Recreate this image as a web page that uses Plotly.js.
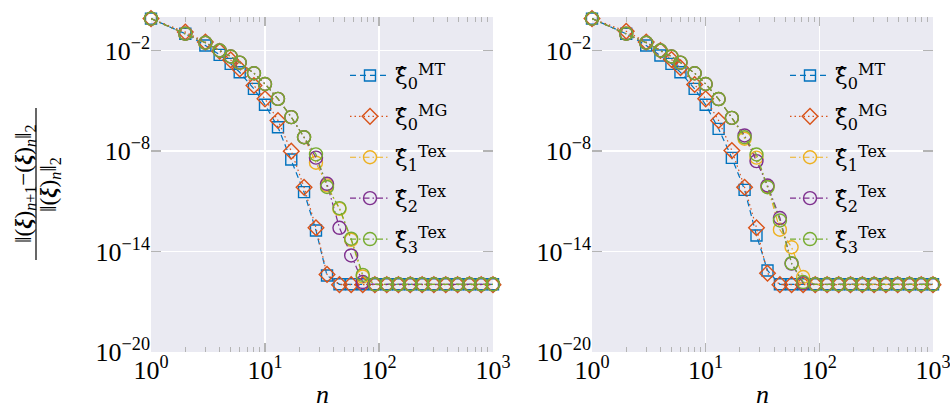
<!DOCTYPE html>
<html><head><meta charset="utf-8">
<script src="https://cdn.plot.ly/plotly-3.0.1.min.js"></script>
<style>body{margin:0;background:#fff}#plot{width:950px;height:412px}</style>
</head><body><div id="plot"></div>
<script>
// iteration counts n
const nVals = [1,2,3,4,5,6,8,10,13,17,22,28,35,45,57,72,92,117,148,188,239,303,385,489,621,788,1000];

// left panel
const leftMT  = [0.8,1.0e-1,2.0e-2,5.5e-3,1.6e-3,5.0e-4,5.1e-5,5.8e-6,2.6e-7,3.1e-9,3.5e-11,1.8e-13,3.7e-16,1.1e-16,1.1e-16,1.1e-16,1.1e-16,1.1e-16,1.1e-16,1.1e-16,1.1e-16,1.1e-16,1.1e-16,1.1e-16,1.1e-16,1.1e-16,1.1e-16];
const leftMG  = [0.8,1.26e-1,3.2e-2,9.1e-3,2.75e-3,7.9e-4,8.1e-5,1.3e-5,6.6e-7,9.8e-9,6.9e-11,2.6e-13,4.3e-16,1.05e-16,1.05e-16,1.05e-16,1.05e-16,1.05e-16,1.05e-16,1.05e-16,1.05e-16,1.05e-16,1.05e-16,1.05e-16,1.05e-16,1.05e-16,1.05e-16];
const leftT1  = [0.8,1.0e-1,2.9e-2,1.0e-2,4.4e-3,1.9e-3,4.4e-4,1.0e-4,1.3e-5,1.05e-6,6.6e-8,2.0e-9,8.9e-11,3.5e-12,5.0e-14,3.2e-16,1.1e-16,1.1e-16,1.1e-16,1.1e-16,1.1e-16,1.1e-16,1.1e-16,1.1e-16,1.1e-16,1.1e-16,1.1e-16];
const leftT2  = [0.8,1.0e-1,2.9e-2,1.0e-2,4.4e-3,1.9e-3,4.4e-4,1.0e-4,1.3e-5,1.05e-6,6.6e-8,4.0e-9,1.1e-10,2.6e-13,5.8e-15,1.5e-16,1.1e-16,1.1e-16,1.1e-16,1.1e-16,1.1e-16,1.1e-16,1.1e-16,1.1e-16,1.1e-16,1.1e-16,1.1e-16];
const leftT3  = [0.8,1.0e-1,2.9e-2,1.0e-2,4.4e-3,1.9e-3,4.4e-4,1.0e-4,1.3e-5,1.05e-6,6.6e-8,6.3e-9,7.1e-11,3.9e-12,5.8e-14,4.0e-16,1.1e-16,1.1e-16,1.1e-16,1.1e-16,1.1e-16,1.1e-16,1.1e-16,1.1e-16,1.1e-16,1.1e-16,1.1e-16];

// right panel
const rightMT = [0.8,1.0e-1,2.0e-2,5.0e-3,1.6e-3,5.0e-4,5.1e-5,5.8e-6,2.1e-7,3.9e-9,4.8e-11,9.1e-14,7.4e-16,1.1e-16,1.1e-16,1.1e-16,1.1e-16,1.1e-16,1.1e-16,1.1e-16,1.1e-16,1.1e-16,1.1e-16,1.1e-16,1.1e-16,1.1e-16,1.1e-16];
const rightMG = [0.8,1.4e-1,3.2e-2,1.0e-2,2.9e-3,9.3e-4,9.3e-5,1.3e-5,6.6e-7,1.07e-8,6.9e-11,2.6e-13,5.0e-16,1.05e-16,1.05e-16,1.05e-16,1.05e-16,1.05e-16,1.05e-16,1.05e-16,1.05e-16,1.05e-16,1.05e-16,1.05e-16,1.05e-16,1.05e-16,1.05e-16];
const rightT1 = [0.8,1.0e-1,2.9e-2,1.0e-2,4.4e-3,1.9e-3,4.4e-4,1.0e-4,1.26e-5,9.5e-7,5.4e-8,4.0e-9,7.9e-11,2.0e-13,1.8e-14,3.0e-16,1.1e-16,1.1e-16,1.1e-16,1.1e-16,1.1e-16,1.1e-16,1.1e-16,1.1e-16,1.1e-16,1.1e-16,1.1e-16];
const rightT2 = [0.8,1.0e-1,2.9e-2,1.0e-2,4.4e-3,1.9e-3,4.4e-4,1.0e-4,1.26e-5,9.5e-7,8.5e-8,2.5e-9,8.7e-11,1.0e-12,1.9e-15,1.3e-16,1.1e-16,1.1e-16,1.1e-16,1.1e-16,1.1e-16,1.1e-16,1.1e-16,1.1e-16,1.1e-16,1.1e-16,1.1e-16];
const rightT3 = [0.8,1.0e-1,2.9e-2,1.0e-2,4.4e-3,1.9e-3,4.4e-4,1.0e-4,1.26e-5,9.5e-7,6.6e-8,6.2e-9,6.9e-11,7.1e-13,2.0e-15,1.5e-16,1.1e-16,1.1e-16,1.1e-16,1.1e-16,1.1e-16,1.1e-16,1.1e-16,1.1e-16,1.1e-16,1.1e-16,1.1e-16];

const seriesNames = [
  'ξ̂<sub>0</sub><sup>MT</sup>',
  'ξ̂<sub>0</sub><sup>MG</sup>',
  'ξ̂<sub>1</sub><sup>Tex</sup>',
  'ξ̂<sub>2</sub><sup>Tex</sup>',
  'ξ̂<sub>3</sub><sup>Tex</sup>'
];
const xTickVals = [1,10,100,1000];
const xTickText = ['10<sup>0</sup>','10<sup>1</sup>','10<sup>2</sup>','10<sup>3</sup>'];
const yTickVals = [1e-20,1e-14,1e-8,1e-2];
const yTickText = ['10<sup>−20</sup>','10<sup>−14</sup>','10<sup>−8</sup>','10<sup>−2</sup>'];
const xTitle = '<i>n</i>';

const colors  = ['#0072BD','#D95319','#EDB120','#7E2F8E','#77AC30'];
const symbols = ['square-open','diamond-open','circle-open','circle-open','circle-open'];
const sizes   = [11,12,13,13,13];
const dashes  = ['6px,4px','1.5px,3px','6px,3px,1.5px,3px','6px,3px,1.5px,3px','6px,3px,1.5px,3px'];

const leftData  = [leftMT,leftMG,leftT1,leftT2,leftT3];
const rightData = [rightMT,rightMG,rightT1,rightT2,rightT3];

const SERIF = 'Liberation Serif, DejaVu Serif, serif';

const traces = [];
function addPanel(data, xa, ya, leg) {
  data.forEach((ys, i) => {
    traces.push({
      type:'scatter', mode:'lines+markers', x:nVals, y:ys,
      xaxis:xa, yaxis:ya, legend:leg, name:seriesNames[i], legendgroup:leg+i,
      cliponaxis:false,
      line:{color:colors[i], width:1.2, dash:dashes[i]},
      marker:{symbol:symbols[i], size:sizes[i], color:colors[i], line:{color:colors[i], width:1.4}}
    });
  });
}
addPanel(leftData,'x','y','legend');
addPanel(rightData,'x2','y2','legend2');

const tickGray = '#b4b4b4';
function xAxis(dom, anchor) {
  return {
    domain:dom, anchor:anchor, type:'log', range:[0,3],
    tickmode:'array', tickvals:xTickVals, ticktext:xTickText,
    ticks:'inside', ticklen:9, tickwidth:1.3, tickcolor:tickGray, mirror:'ticks',
    showline:false, showgrid:true, gridcolor:'#ffffff', gridwidth:1.3, zeroline:false,
    minor:{ticks:'inside', ticklen:5, tickwidth:1, tickcolor:tickGray, dtick:'D1', showgrid:false},
    ticklabeloverflow:'allow',
    tickfont:{family:SERIF, size:26}
  };
}
function yAxis(anchor) {
  return {
    anchor:anchor, type:'log', range:[-20,0],
    tickmode:'array', tickvals:yTickVals, ticktext:yTickText,
    ticks:'inside', ticklen:10, tickwidth:1.3, tickcolor:tickGray, mirror:'ticks',
    showline:false, showgrid:true, gridcolor:'#ffffff', gridwidth:1.3, zeroline:false,
    tickfont:{family:SERIF, size:26}
  };
}

const W = 950, H = 412, L = 151, R = 17, T = 17, B = 60;
const pw = W - L - R, ph = H - T - B;
const px = v => (v - L) / pw;
const py = v => (H - B - v) / ph;

const legendBase = {
  yanchor:'top', xanchor:'left', bgcolor:'rgba(0,0,0,0)', borderwidth:0,
  font:{family:'DejaVu Serif, serif', size:23}, tracegroupgap:8, itemwidth:40
};

const layout = {
  width:W, height:H,
  margin:{l:L, r:R, t:T, b:B, pad:0},
  paper_bgcolor:'#ffffff', plot_bgcolor:'#EAEAF2',
  font:{family:SERIF, size:24, color:'#000'},
  showlegend:true,
  xaxis:xAxis([0, 342/pw], 'y'),
  xaxis2:xAxis([441/pw, 1], 'y2'),
  yaxis:yAxis('x'),
  yaxis2:yAxis('x2'),
  legend:Object.assign({}, legendBase, {x:px(345), y:py(54)}),
  legend2:Object.assign({}, legendBase, {x:px(785), y:py(54)}),
  annotations:[
    {xref:'paper', yref:'paper', x:px(25), y:py(184), xanchor:'center', yanchor:'middle', textangle:-90, showarrow:false,
     font:{family:SERIF, size:23},
     text:'‖(<b><i>ξ</i></b>)<sub><i>n</i>+1</sub>−(<b><i>ξ</i></b>)<sub><i>n</i></sub>‖<sub>2</sub>'},
    {xref:'paper', yref:'paper', x:px(50), y:py(185), xanchor:'center', yanchor:'middle', textangle:-90, showarrow:false,
     font:{family:SERIF, size:23},
     text:'‖(<b><i>ξ</i></b>)<sub><i>n</i></sub>‖<sub>2</sub>'},
    {xref:'paper', yref:'paper', x:px(322), y:py(411), xanchor:'center', yanchor:'bottom', showarrow:false,
     font:{family:SERIF, size:26}, text:xTitle},
    {xref:'paper', yref:'paper', x:px(762), y:py(411), xanchor:'center', yanchor:'bottom', showarrow:false,
     font:{family:SERIF, size:26}, text:xTitle}
  ],
  shapes:[
    {type:'line', xref:'paper', yref:'paper', x0:px(36), x1:px(36), y0:py(260), y1:py(108), line:{color:'#000', width:1.2}}
  ]
};

Plotly.newPlot('plot', traces, layout, {displayModeBar:false, staticPlot:true});
</script>
</body></html>
